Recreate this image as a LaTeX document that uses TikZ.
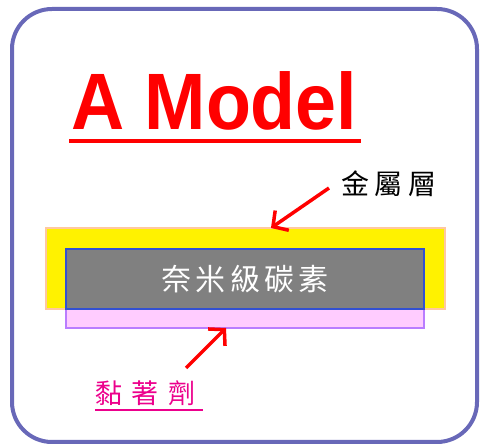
\documentclass[tikz,border=0pt]{standalone}
\usepackage{fontspec}
\setmainfont{Liberation Sans}
\newfontfamily\cjk{Noto Sans CJK TC}
\usetikzlibrary{arrows.meta}
\definecolor{framec}{RGB}{104,104,184}
\definecolor{layerc}{RGB}{255,200,160}
\definecolor{carbonc}{RGB}{128,128,128}
\definecolor{carbonb}{RGB}{50,80,210}
\definecolor{gluec}{RGB}{255,204,255}
\definecolor{glueb}{RGB}{185,125,255}
\tikzset{layer/.style = {rectangle, inner sep = 0, line width = 1.2}}
\tikzset{redarrow/.style = {draw = red, line width = 3.5, -{Straight Barb[length=11, width=24, line width=3.5]}}}

\begin{document}
\begin{tikzpicture}[x = 1pt, y = -1pt]
    \useasboundingbox (0, 0) rectangle (483, 446);
    \draw [framec, line width = 4, rounded corners = 40] (12, 9) rectangle (477, 442);
    % title
    \node [anchor = base west, inner sep = 0, text = red, font = \fontsize{80}{80}\selectfont\bfseries, xscale = 0.92] (title) at (71, 130) {A Model};
    \draw [red, line width = 3.5] ([xshift = -2]title.base west) ++(0, 11) -- ([xshift = 3, yshift = -11]title.base east);
    % layers
    \node [layer, draw = layerc, fill = yellow, minimum width = 399, minimum height = 81] (metal) at (245.5, 268.5) {};
    \node [layer, draw = glueb, fill = gluec, minimum width = 358, minimum height = 24] (glue) at (245, 316) {};
    \node [layer, draw = carbonb, fill = carbonc, minimum width = 358, minimum height = 60, text = white,
           font = \cjk\fontsize{30}{30}\selectfont\addfontfeatures{LetterSpace = 15}] (carbon) at (245, 279) {奈米級碳素};
    % labels
    \node [font = \cjk\fontsize{28}{28}\selectfont\addfontfeatures{LetterSpace = 18}] (metallbl) at (389, 184) {金屬層};
    \node [anchor = base west, inner sep = 0, text = magenta, font = \cjk\fontsize{27}{27}\selectfont\addfontfeatures{LetterSpace = 36}] (gluelbl) at (95, 404) {黏著劑};
    \draw [magenta, line width = 1.5] (gluelbl.base west) ++(0, 6) -- ++(108, 0);
    % arrows
    \coordinate (metalfrom) at (329, 188);
    \coordinate (metaltip) at (271, 228);
    \coordinate (gluefrom) at (186, 368);
    \coordinate (gluetip) at (226, 328);
    \draw [redarrow] (metalfrom) -- (metaltip);
    \draw [redarrow] (gluefrom) -- (gluetip);
\end{tikzpicture}
\end{document}
